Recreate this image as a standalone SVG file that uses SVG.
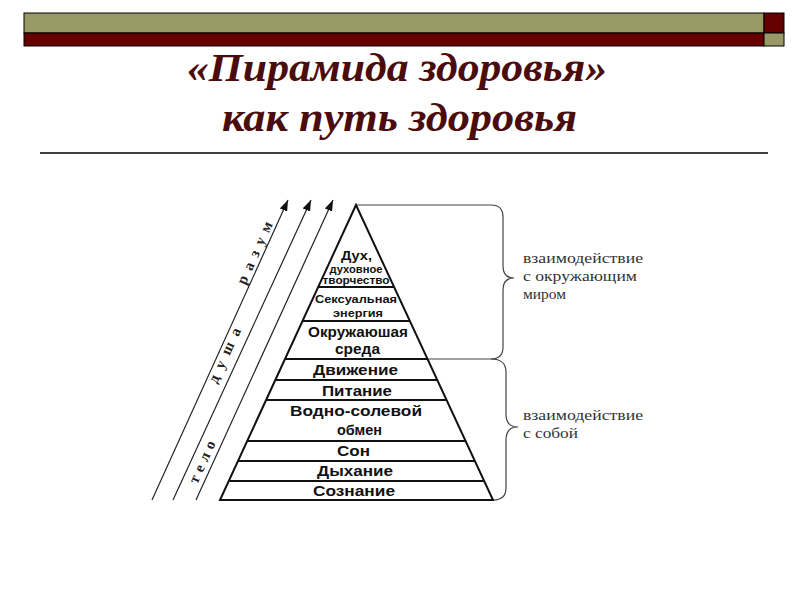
<svg xmlns="http://www.w3.org/2000/svg" width="800" height="600" viewBox="0 0 800 600">
<style>
.hdr{stroke:#000;stroke-width:1}
.olive{fill:#999966}
.dred{fill:#660000}
.title{font-family:"Liberation Serif","DejaVu Serif",serif;font-weight:bold;font-style:italic;font-size:40px;fill:#4a0c0c}
.lvl{font-family:"Liberation Sans","Arial",sans-serif;font-weight:bold;fill:#111}
.edge{stroke:#111;stroke-width:2;fill:none}
.arr{stroke:#222;stroke-width:1.2;fill:none}
.axis{font-family:"Liberation Serif","DejaVu Serif",serif;font-weight:bold;font-size:15px;fill:#222;text-anchor:middle}
.brace{stroke:#444;stroke-width:1.2;fill:none}
.note{font-family:"Liberation Serif","DejaVu Serif",serif;font-size:15.5px;fill:#333}
</style>
<defs>
<marker id="ah" markerWidth="12" markerHeight="8" refX="11" refY="4" orient="auto" markerUnits="userSpaceOnUse">
<path d="M0,0 L11,4 L0,8 z" fill="#111"/>
</marker>
</defs>
<rect width="800" height="600" fill="#fff"/>
<g id="header">
<rect class="hdr olive" x="24" y="13" width="740" height="20"/>
<rect class="hdr dred" x="24" y="33" width="740" height="13"/>
<rect class="hdr dred" x="764" y="13" width="20" height="20"/>
<rect class="hdr olive" x="764" y="33" width="20" height="13"/>
</g>
<g id="title">
<text class="title" x="187" y="81" textLength="420" lengthAdjust="spacingAndGlyphs">«Пирамида здоровья»</text>
<text class="title" x="222" y="131" textLength="355" lengthAdjust="spacingAndGlyphs">как путь здоровья</text>
<line x1="40" y1="153" x2="768" y2="153" stroke="#000" stroke-width="1.5"/>
</g>
<g id="connectors">
<line class="arr" x1="152" y1="500" x2="288" y2="200" marker-end="url(#ah)"/>
<line class="arr" x1="173" y1="500" x2="311" y2="200" marker-end="url(#ah)"/>
<line class="arr" x1="196" y1="500" x2="333" y2="200" marker-end="url(#ah)"/>
<path class="brace" d="M356,205 L491,205 Q503,205 503,217 L503,266 Q503,278 514,278 Q503,278 503,290 L503,347 Q503,359 491,359 L428,359"/>
<path class="brace" d="M491,359 Q506,359 506,372 L506,414 Q506,427 518,427 Q506,427 506,440 L506,488 Q506,500 493,500"/>
</g>
<g id="axis-labels">
<text class="axis" transform="translate(257,250) rotate(-65.6)" y="4" letter-spacing="7">разум</text>
<text class="axis" transform="translate(227,352) rotate(-65.6)" y="4" letter-spacing="8">душа</text>
<text class="axis" transform="translate(204,460) rotate(-65.6)" y="4" letter-spacing="5">тело</text>
</g>
<g id="pyramid">
<polygon class="edge" points="356,205 493,500 220,500"/>
<line class="edge" x1="318" y1="287" x2="394" y2="287" stroke-width="3"/>
<line class="edge" x1="302.5" y1="321" x2="409.5" y2="321"/>
<line class="edge" x1="285" y1="359" x2="427.5" y2="359"/>
<line class="edge" x1="275.5" y1="380" x2="437.5" y2="380"/>
<line class="edge" x1="266.5" y1="400" x2="446.5" y2="400"/>
<line class="edge" x1="247.5" y1="441" x2="465.5" y2="441"/>
<line class="edge" x1="238.5" y1="461" x2="475" y2="461"/>
<line class="edge" x1="229.5" y1="481" x2="484" y2="481"/>
</g>
<g id="level-spirit">
<text class="lvl" x="341" y="260" font-size="12.5" textLength="31" lengthAdjust="spacingAndGlyphs">Дух,</text>
<text class="lvl" x="329.5" y="272.5" font-size="10" textLength="53" lengthAdjust="spacingAndGlyphs">духовное</text>
<text class="lvl" x="322.5" y="284" font-size="10" textLength="67" lengthAdjust="spacingAndGlyphs">творчество</text>
</g>
<g id="level-sexual">
<text class="lvl" x="315" y="303" font-size="11.5" textLength="82" lengthAdjust="spacingAndGlyphs">Сексуальная</text>
<text class="lvl" x="333" y="317" font-size="11.5" textLength="50" lengthAdjust="spacingAndGlyphs">энергия</text>
</g>
<g id="level-environment">
<text class="lvl" x="308" y="337" font-size="15" textLength="100" lengthAdjust="spacingAndGlyphs">Окружаюшая</text>
<text class="lvl" x="335" y="354" font-size="15" textLength="45" lengthAdjust="spacingAndGlyphs">среда</text>
</g>
<g id="level-movement"><text class="lvl" x="313" y="375" font-size="15.5" textLength="85" lengthAdjust="spacingAndGlyphs">Движение</text></g>
<g id="level-nutrition"><text class="lvl" x="322" y="396" font-size="15.5" textLength="70" lengthAdjust="spacingAndGlyphs">Питание</text></g>
<g id="level-water"><text class="lvl" x="290" y="416" font-size="15.5" textLength="132" lengthAdjust="spacingAndGlyphs">Водно-солевой</text>
<text class="lvl" x="337" y="435" font-size="15.5" textLength="45" lengthAdjust="spacingAndGlyphs">обмен</text></g>
<g id="level-sleep"><text class="lvl" x="337" y="456" font-size="15.5" textLength="33" lengthAdjust="spacingAndGlyphs">Сон</text></g>
<g id="level-breath"><text class="lvl" x="317" y="476" font-size="15.5" textLength="76" lengthAdjust="spacingAndGlyphs">Дыхание</text></g>
<g id="level-consciousness"><text class="lvl" x="313" y="496" font-size="15.5" textLength="82" lengthAdjust="spacingAndGlyphs">Сознание</text></g>
<g id="note-world">
<text class="note" x="523" y="263" textLength="120" lengthAdjust="spacingAndGlyphs">взаимодействие</text>
<text class="note" x="523" y="281" textLength="114" lengthAdjust="spacingAndGlyphs">с окружающим</text>
<text class="note" x="523" y="299">миром</text>
</g>
<g id="note-self">
<text class="note" x="523" y="420" textLength="120" lengthAdjust="spacingAndGlyphs">взаимодействие</text>
<text class="note" x="523" y="438" textLength="55" lengthAdjust="spacingAndGlyphs">с собой</text>
</g>
</svg>
